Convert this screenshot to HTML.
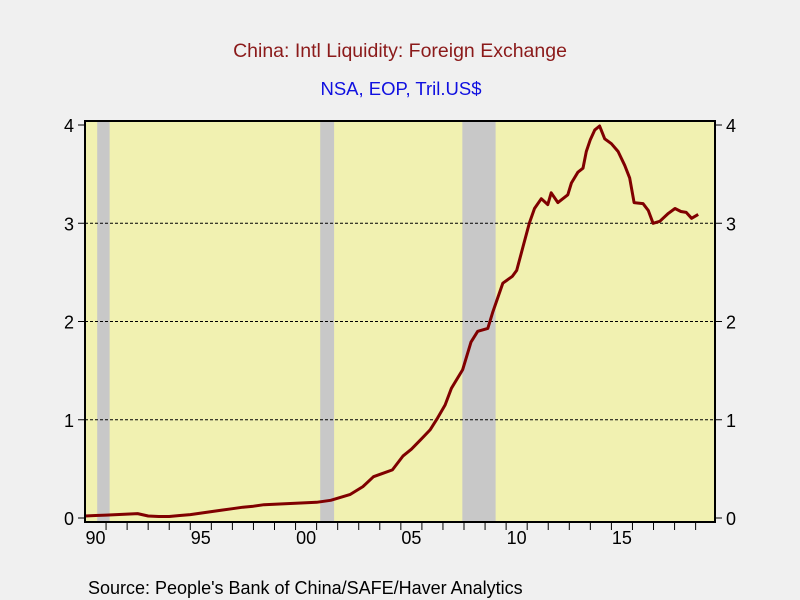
<!DOCTYPE html>
<html><head><meta charset="utf-8"><style>
body{margin:0;background:#f0f0f0;font-family:"Liberation Sans",sans-serif;}
svg{display:block}
</style></head><body>
<svg id="chart" width="800" height="600" viewBox="0 0 800 600">
<rect width="800" height="600" fill="#f0f0f0"/>
<text x="400" y="57" text-anchor="middle" font-size="19.5" fill="#8b1a1a">China: Intl Liquidity: Foreign Exchange</text>
<text x="401" y="95" text-anchor="middle" font-size="18.5" fill="#1010e0">NSA, EOP, Tril.US$</text>
<text x="88" y="594" font-size="18" fill="#000">Source:  People's Bank of China/SAFE/Haver Analytics</text>
<g id="plot"></g>
</svg>
<script>
const recessions=[[1990.58,1991.17],[2001.17,2001.83],[2007.92,2009.5]];
const yTicks=[0,1,2,3,4];
const xLabels=["90","95","00","05","10","15"];
const xLabelYears=[1990,1995,2000,2005,2010,2015];
const dates=[1990.0,1990.5,1991.0,1991.5,1992.0,1992.5,1993.0,1993.5,1994.0,1994.5,1995.0,1995.5,1996.0,1996.5,1997.0,1997.5,1998.0,1998.5,1999.0,1999.5,2000.0,2000.5,2001.0,2001.67,2002.6,2003.2,2003.7,2004.6,2005.1,2005.5,2006.0,2006.4,2006.75,2007.1,2007.4,2007.94,2008.33,2008.65,2009.13,2009.37,2009.84,2010.3,2010.5,2010.8,2011.1,2011.35,2011.67,2011.98,2012.14,2012.46,2012.93,2013.1,2013.41,2013.65,2013.81,2014.0,2014.21,2014.44,2014.68,2015.0,2015.32,2015.63,2015.87,2016.08,2016.5,2016.75,2016.98,2017.3,2017.7,2018.02,2018.3,2018.55,2018.81,2019.12];
const values=[0.02,0.025,0.03,0.035,0.04,0.045,0.02,0.015,0.015,0.025,0.035,0.05,0.065,0.08,0.095,0.11,0.12,0.135,0.14,0.145,0.15,0.155,0.16,0.18,0.24,0.32,0.42,0.49,0.63,0.7,0.81,0.9,1.02,1.15,1.32,1.51,1.79,1.9,1.93,2.1,2.39,2.46,2.52,2.76,3.0,3.15,3.25,3.19,3.31,3.21,3.29,3.41,3.52,3.56,3.73,3.85,3.95,3.99,3.86,3.81,3.73,3.59,3.46,3.21,3.2,3.13,3.0,3.02,3.1,3.15,3.12,3.11,3.05,3.09];
const L=85,R=715,T=121,B=522,Y0=518,Y4=125;
const x=t=>L+(t-1990)*(R-L)/29.92;
const y=v=>Y0-v*(Y0-Y4)/4;
const NS="http://www.w3.org/2000/svg";
const g=document.getElementById('plot');
function mk(tag,attrs){const e=document.createElementNS(NS,tag);for(const k in attrs)e.setAttribute(k,attrs[k]);g.appendChild(e);return e;}
let e=mk('rect',{x:L,y:T,width:R-L,height:B-T,fill:'#f1f1b1'});


recessions.forEach(r=>{const el=mk('rect',{x:x(r[0]),y:T,width:x(r[1])-x(r[0]),height:B-T,fill:'#c8c8c8'});

});
yTicks.forEach(v=>{
 if(v>0&&v<4){const gl=mk('line',{x1:L,x2:R,y1:y(v),y2:y(v),stroke:'#000','stroke-width':1,'stroke-dasharray':'3,2'});
 
 }
 const t1=mk('line',{x1:L-7,x2:L,y1:y(v),y2:y(v),stroke:'#000','stroke-width':1});
 
 
 const t2=mk('line',{x1:R,x2:R+7,y1:y(v),y2:y(v),stroke:'#000','stroke-width':1});
 
 
 const l1=mk('text',{x:L-11,y:y(v)+7,'text-anchor':'end','font-size':18,fill:'#000'});l1.textContent=v;
 
 
 const l2=mk('text',{x:R+11,y:y(v)+7,'font-size':18,fill:'#000'});l2.textContent=v;
 
 
});
for(let yr=1991;yr<=2019;yr++){const tk=mk('line',{x1:x(yr),x2:x(yr),y1:B,y2:B+8,stroke:'#000','stroke-width':1});

}
xLabels.forEach((s,i)=>{const t=mk('text',{x:x(xLabelYears[i]+0.5),y:B+22,'text-anchor':'middle','font-size':18,fill:'#000'});t.textContent=s;

});
const p=mk('polyline',{points:dates.map((d,i)=>x(d).toFixed(1)+','+y(values[i]).toFixed(1)).join(' '),fill:'none',stroke:'#800000','stroke-width':3,'stroke-linejoin':'round'});


const f=mk('rect',{x:L,y:T,width:R-L,height:B-T,fill:'none',stroke:'#000','stroke-width':2});


</script>
</body></html>
